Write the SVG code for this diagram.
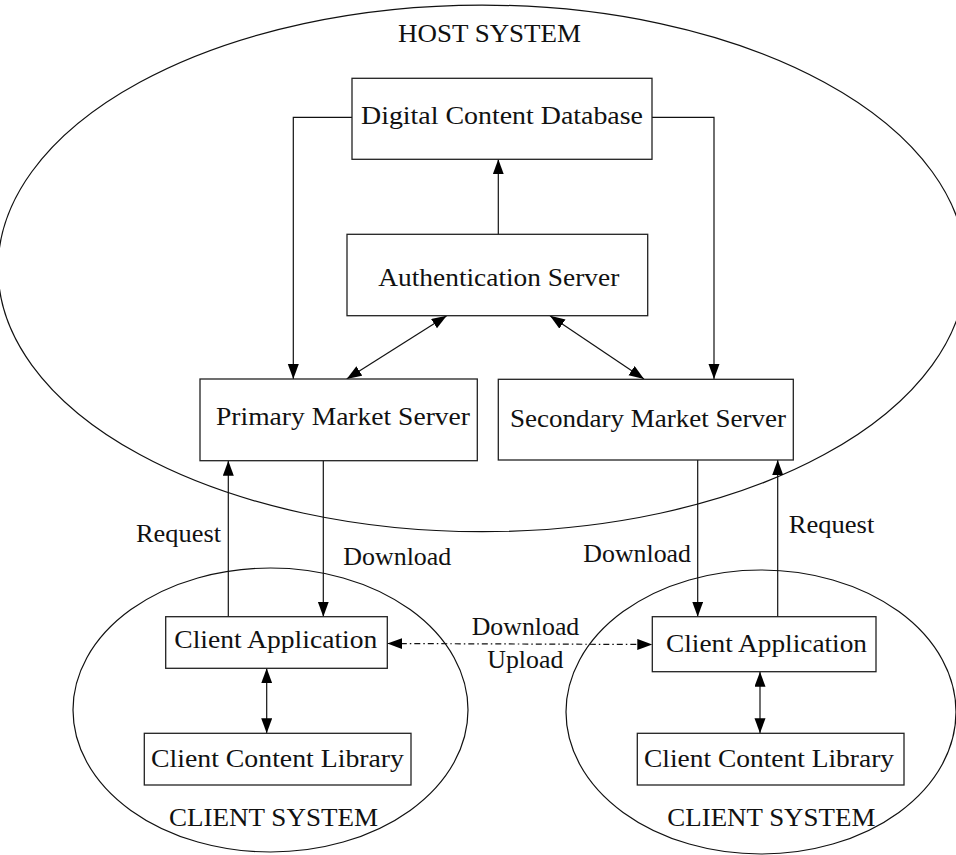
<svg xmlns="http://www.w3.org/2000/svg" width="956" height="855" viewBox="0 0 956 855">
  <style>
    .bg { fill: #ffffff; }
    .boundary { fill: none; stroke: #111; stroke-width: 1.2; }
    .box { fill: #ffffff; stroke: #222; stroke-width: 1.3; }
    .label { font-family: "Liberation Serif", "Times New Roman", serif; font-size: 26px; fill: #111; }
    .conn { fill: none; stroke: #111; stroke-width: 1.2; }
    .arrow { marker-end: url(#head); }
    .both { marker-start: url(#head); marker-end: url(#head); }
    .dashdot { stroke-dasharray: 6 3 1.5 3; }
  </style>
  <defs>
    <marker id="head" markerUnits="userSpaceOnUse" markerWidth="16" markerHeight="12" refX="15" refY="5.5" orient="auto-start-reverse">
      <path d="M0,0 L15,5.5 L0,11 z" fill="#000"/>
    </marker>
  </defs>

  <rect class="bg" x="0" y="0" width="956" height="855"/>

  <!-- system boundaries -->
  <g id="host-system">
    <ellipse class="boundary" cx="482" cy="268.4" rx="484" ry="263.3"/>
    <text class="label" x="398" y="41.5" textLength="183" lengthAdjust="spacingAndGlyphs">HOST SYSTEM</text>
  </g>
  <g id="client-system-left">
    <ellipse class="boundary" cx="270.5" cy="710" rx="197.5" ry="142"/>
    <text class="label" x="169" y="825.7" textLength="209" lengthAdjust="spacingAndGlyphs">CLIENT SYSTEM</text>
  </g>
  <g id="client-system-right">
    <ellipse class="boundary" cx="761" cy="712" rx="195" ry="142"/>
    <text class="label" x="667.3" y="825.7" textLength="208" lengthAdjust="spacingAndGlyphs">CLIENT SYSTEM</text>
  </g>

  <!-- connectors -->
  <g id="connectors">
    <polyline class="conn arrow" points="352,117.3 293.3,117.3 293.3,379"/>
    <polyline class="conn arrow" points="652,117.3 714,117.3 714,379"/>
    <line class="conn arrow" x1="498.3" y1="234.3" x2="498.3" y2="159.3"/>
    <line class="conn both" x1="446.7" y1="315.7" x2="346.7" y2="379"/>
    <line class="conn both" x1="550" y1="315.7" x2="644" y2="379"/>
    <line class="conn arrow" x1="323.3" y1="460.7" x2="323.3" y2="616.7"/>
    <line class="conn arrow" x1="228.3" y1="616.7" x2="228.3" y2="460.7"/>
    <line class="conn arrow" x1="697.7" y1="460" x2="697.7" y2="616.7"/>
    <line class="conn arrow" x1="777.7" y1="616.7" x2="777.7" y2="460"/>
    <line class="conn both dashdot" x1="387.3" y1="643.5" x2="652.3" y2="644.5"/>
    <line class="conn both" x1="266.7" y1="668.3" x2="266.7" y2="733.3"/>
    <line class="conn both" x1="760" y1="671.7" x2="760" y2="733.3"/>
    <text class="label" x="136" y="541.7" textLength="85" lengthAdjust="spacingAndGlyphs">Request</text>
    <text class="label" x="343.3" y="565" textLength="108" lengthAdjust="spacingAndGlyphs">Download</text>
    <text class="label" x="583.3" y="561.7" textLength="107.7" lengthAdjust="spacingAndGlyphs">Download</text>
    <text class="label" x="788.7" y="532.7" textLength="85.6" lengthAdjust="spacingAndGlyphs">Request</text>
    <text class="label" x="471.7" y="635" textLength="107.6" lengthAdjust="spacingAndGlyphs">Download</text>
    <text class="label" x="487.3" y="667.5" textLength="76" lengthAdjust="spacingAndGlyphs">Upload</text>
  </g>

  <!-- nodes -->
  <g id="digital-content-database">
    <rect class="box" x="352" y="78.3" width="300" height="81"/>
    <text class="label" x="361" y="124.3" textLength="282" lengthAdjust="spacingAndGlyphs">Digital Content Database</text>
  </g>
  <g id="authentication-server">
    <rect class="box" x="347" y="234.3" width="300.7" height="81.4"/>
    <text class="label" x="378.3" y="286" textLength="241" lengthAdjust="spacingAndGlyphs">Authentication Server</text>
  </g>
  <g id="primary-market-server">
    <rect class="box" x="200" y="379" width="277.3" height="81.7"/>
    <text class="label" x="216" y="424.5" textLength="254" lengthAdjust="spacingAndGlyphs">Primary Market Server</text>
  </g>
  <g id="secondary-market-server">
    <rect class="box" x="498.3" y="379.3" width="295" height="80.7"/>
    <text class="label" x="510" y="426.5" textLength="276" lengthAdjust="spacingAndGlyphs">Secondary Market Server</text>
  </g>
  <g id="client-application-left">
    <rect class="box" x="165.7" y="616.7" width="221.6" height="51.6"/>
    <text class="label" x="174.3" y="648.3" textLength="203" lengthAdjust="spacingAndGlyphs">Client Application</text>
  </g>
  <g id="client-application-right">
    <rect class="box" x="652.3" y="616.7" width="223.7" height="55"/>
    <text class="label" x="666" y="652.3" textLength="201" lengthAdjust="spacingAndGlyphs">Client Application</text>
  </g>
  <g id="client-content-library-left">
    <rect class="box" x="144.3" y="733.3" width="266.7" height="51.7"/>
    <text class="label" x="151" y="767.3" textLength="253" lengthAdjust="spacingAndGlyphs">Client Content Library</text>
  </g>
  <g id="client-content-library-right">
    <rect class="box" x="637.3" y="733.3" width="266.7" height="51.7"/>
    <text class="label" x="644" y="767" textLength="250" lengthAdjust="spacingAndGlyphs">Client Content Library</text>
  </g>
</svg>
